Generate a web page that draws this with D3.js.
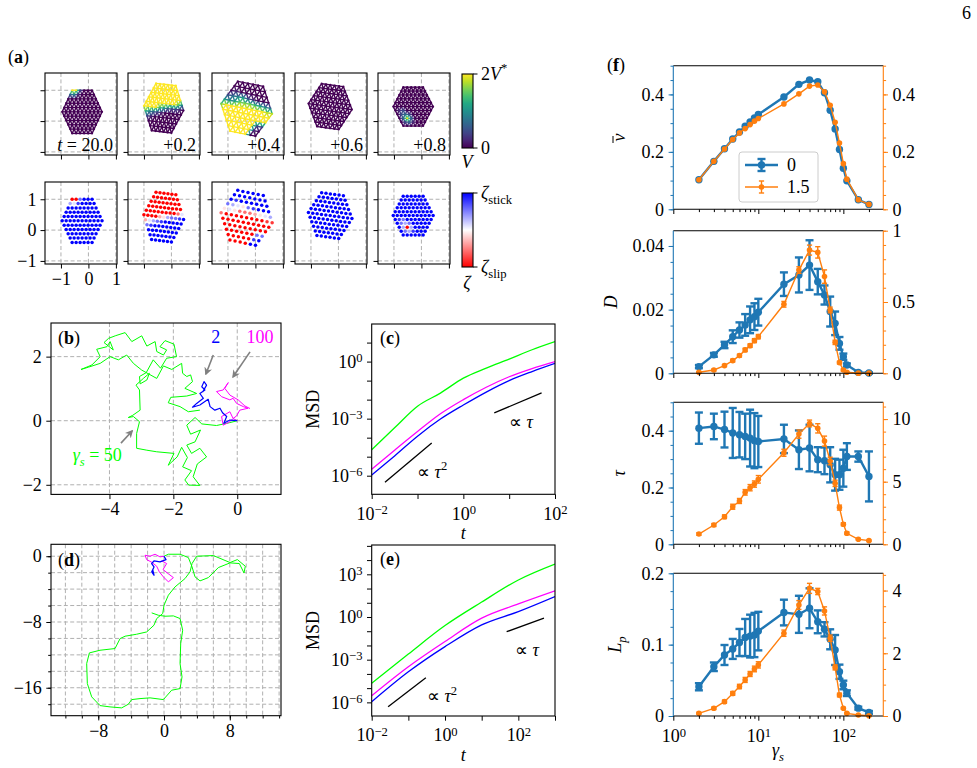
<!DOCTYPE html>
<html>
<head>
<meta charset="utf-8">
<script src="https://cdn.jsdelivr.net/npm/d3@7/dist/d3.min.js"></script>
<style>
  body { margin: 0; background: #fff; }
  text { font-family: "Liberation Serif", "Times New Roman", serif; fill: #000; }
</style>
</head>
<body>
<script>
// ---------------- data ----------------

// (a) snapshots of the 91-disc cluster, one string per lattice row (top to bottom),
// digit = local sliding level (0 = stuck, 9 = slipping)
const snapLabels = ['20.0', '+0.2', '+0.4', '+0.6', '+0.8']
const snapCenters = [[-0.23, 0.30], [-0.28, 0.42], [-0.32, 0.40], [-0.30, 0.47], [-0.30, 0.47]]
const snapTilt = [0, -6, -10, -7, 0]
const snapStretch = [[1, 1], [1, 1.1], [1.3, 1.17], [1.1, 1], [1, 0.9]]
const snapRows = [
  ['992000', '3410000', '00000000', '000000000', '0000000000', '00000000000', '0000000000', '000000000', '00000000', '0000000', '000000'],
  ['999999', '9999999', '99999999', '999999999', '9999999974', '99996532210', '6432100000', '210000000', '00000000', '0000000', '000000'],
  ['000000', '0000000', '01000000', '234521000', '5457776543', '79999999988', '9999999999', '999999999', '99999922', '9999910', '999900'],
  ['000000', '0000000', '00000000', '000000000', '0000000000', '00000000000', '0000000000', '000000000', '00000000', '0000000', '000000'],
  ['000000', '0000000', '00000000', '000000000', '0000000000', '00000000000', '0120000000', '023200000', '03930000', '0231000', '000000']
]
const latticeDx = 0.145
const latticeDy = 0.14

// (b) short trajectories, gamma_s = 50 / 2 / 100
const trajB50 = [[0, 0], [-0.23, -0.06], [-0.65, -0.15], [-1.11, -0.10], [-1.32, 0.10], [-1.58, -0.14], [-1.46, -0.42], [-1.15, -0.29], [-1.32, -0.66], [-1.58, -0.76], [-1.43, -1.02], [-1.17, -0.86], [-0.96, -1.13], [-1.25, -1.35], [-1.38, -1.75], [-1.17, -2.02], [-1.52, -2.01], [-1.64, -1.85], [-1.43, -1.56], [-1.71, -1.44], [-1.56, -1.15], [-1.74, -0.83], [-1.88, -1.13], [-2.16, -1.39], [-1.98, -1.02], [-2.52, -0.97], [-2.83, -0.92], [-3.15, -0.86], [-3.15, -0.40], [-3.06, -0.03], [-3.25, 0.13], [-3.41, 0.10], [-3.27, 0.17], [-3.04, 0.33], [-3.06, 0.96], [-3.17, 1.11], [-2.94, 1.32], [-2.75, 1.48], [-2.83, 1.27], [-3.04, 1.15], [-3.06, 1.38], [-2.85, 1.50], [-2.63, 1.90], [-2.40, 1.64], [-2.21, 1.95], [-1.90, 2.00], [-1.98, 2.39], [-2.26, 2.50], [-2.42, 2.31], [-2.21, 2.21], [-2.31, 2.05], [-2.52, 2.16], [-2.57, 2.47], [-2.83, 2.33], [-2.99, 2.65], [-3.30, 2.47], [-3.51, 2.75], [-3.82, 2.65], [-4.03, 2.57], [-4.17, 2.44], [-3.88, 2.21], [-3.98, 2.47], [-4.08, 2.31], [-4.40, 2.23], [-4.29, 2.00], [-4.55, 1.74], [-4.89, 1.60], [-4.66, 1.67], [-4.29, 1.79], [-3.98, 2.00], [-3.72, 1.90], [-3.46, 2.05], [-3.25, 1.79], [-2.99, 1.58], [-2.52, 1.32], [-2.31, 1.71], [-2.05, 1.60], [-1.74, 1.79], [-1.71, 1.48], [-1.58, 1.38], [-1.46, 1.43], [-1.40, 1.22], [-1.64, 1.01], [-1.27, 0.85], [-1.58, 0.77], [-2.08, 0.73], [-2.16, 0.56], [-1.79, 0.44], [-1.53, 0.28], [-1.17, 0.33]]
const trajB2 = [[0, 0], [-0.23, 0.02], [-0.42, -0.08], [-0.33, 0.13], [-0.46, 0.25], [-0.54, 0.39], [-0.70, 0.33], [-0.85, 0.44], [-0.91, 0.67], [-1.17, 0.49], [-1.40, 0.42], [-1.27, 0.54], [-1.06, 0.70], [-1.17, 0.85], [-1.01, 0.96], [-1.11, 1.06], [-1.04, 1.22], [-0.96, 1.11], [-1.08, 0.90]]
const trajB100 = [[0, 0], [-0.13, 0.07], [-0.23, -0.03], [-0.44, -0.14], [-0.49, 0.13], [-0.23, 0.28], [-0.13, 0.07], [-0.02, 0.15], [0.08, 0.33], [0.34, 0.39], [0.19, 0.44], [-0.02, 0.54], [-0.13, 0.70], [-0.23, 0.65], [-0.49, 0.75], [-0.65, 0.91], [-0.44, 0.96], [-0.28, 1.19], [-0.39, 1.01], [-0.23, 0.80], [0.03, 0.65], [0.24, 0.46], [0.40, 0.38]]

// (d) long trajectories
const trajD50 = [[0, 0], [0.53, 0.24], [1.95, 0.24], [2.96, -0.16], [3.41, -1.30], [3.77, -2.51], [4.38, -3.00], [5.39, -2.60], [6.61, -1.38], [8.03, -0.81], [9.16, -0.89], [9.73, -2.03], [9.89, -1.22], [8.92, -0.41], [8.03, -0.77], [6.00, 0.08], [3.97, 0.00], [3.41, -0.89], [3.16, -1.91], [2.55, -2.72], [1.34, -3.73], [0.53, -4.74], [0.00, -5.96], [-0.16, -6.97], [-0.89, -7.58], [-1.22, -8.39], [-2.11, -9.21], [-3.33, -9.49], [-4.74, -9.73], [-5.35, -10.02], [-5.96, -11.23], [-7.79, -11.44], [-9.08, -11.76], [-9.41, -13.06], [-9.33, -15.49], [-8.80, -17.11], [-7.79, -18.17], [-6.57, -18.33], [-5.15, -18.45], [-4.34, -18.00], [-3.93, -17.44], [-2.92, -17.32], [-1.70, -17.23], [-0.08, -17.44], [0.93, -16.30], [1.95, -16.10], [2.19, -14.68], [1.95, -13.06], [2.03, -10.62], [2.27, -9.00], [1.95, -7.58], [1.14, -7.26], [0.12, -7.30], [-0.69, -7.18], [-1.50, -6.89]]
const trajD2 = [[0, 0], [0.24, -0.41], [-0.49, -0.69], [-1.22, -0.57], [-1.50, -0.89], [-1.22, -1.30], [-1.50, -1.91], [-1.22, -2.31], [-1.38, -1.62]]
const trajD100 = [[0, 0], [-0.49, -0.08], [-1.09, 0.24], [-1.70, 0.00], [-2.31, 0.12], [-2.11, -0.41], [-1.50, -0.73], [-0.89, -1.22], [-0.57, -1.91], [-0.08, -2.51], [0.53, -3.12], [1.14, -2.60], [0.49, -2.11], [-0.12, -1.62], [0.32, -0.89], [-0.28, -0.57]]

// (c) MSD, short runs
const lagC = [0.01, 0.0316, 0.1, 0.316, 1, 3.16, 10, 31.6, 100]
const msdC50 = [2.3e-5, 3.3e-4, 4.5e-3, 2.2e-2, 0.135, 0.45, 1.35, 4.2, 11.2]
const msdC100 = [2.2e-6, 2.2e-5, 2.1e-4, 1.8e-3, 1.0e-2, 4.5e-2, 0.16, 0.43, 1.0]
const msdC2 = [1.07e-6, 1.1e-5, 1.2e-4, 9.5e-4, 5.2e-3, 2.5e-2, 0.1, 0.3, 0.81]

// (e) MSD, long runs
const lagE = [0.01, 0.1, 1, 10, 100, 1000]
const msdE50 = [2.2e-5, 2.5e-3, 0.25, 11.2, 400, 5250]
const msdE100 = [2.95e-6, 3.2e-4, 1.9e-2, 0.83, 8.3, 69]
const msdE2 = [1.1e-6, 1.4e-4, 8.3e-3, 0.28, 2.4, 27.5]

// (f) observables vs gamma_s for the two parameter values (0 and 1.5)
const gammaS = [2, 3, 4, 5, 6, 7, 8, 9, 10, 20, 30, 40, 50, 60, 70, 80, 90, 100, 110, 150, 200]
const vBar0 = [0.103, 0.167, 0.211, 0.245, 0.269, 0.289, 0.304, 0.318, 0.33, 0.391, 0.435, 0.45, 0.444, 0.406, 0.345, 0.28, 0.208, 0.143, 0.099, 0.033, 0.017]
const vBar15 = [0.103, 0.167, 0.21, 0.243, 0.266, 0.281, 0.295, 0.307, 0.316, 0.367, 0.402, 0.429, 0.433, 0.409, 0.362, 0.303, 0.231, 0.159, 0.105, 0.033, 0.017]
const diff0 = [0.0021, 0.0058, 0.0089, 0.0115, 0.0136, 0.0152, 0.0168, 0.0178, 0.0192, 0.028, 0.0309, 0.034, 0.0288, 0.0246, 0.0194, 0.0157, 0.0094, 0.0052, 0.0026, 0.0003, 0.0001]
const diff0Err = [0.0005, 0.0006, 0.001, 0.002, 0.0024, 0.0034, 0.0042, 0.0042, 0.0042, 0.0037, 0.0055, 0.0078, 0.004, 0.003, 0.0047, 0.0037, 0.002, 0.001, 0.0005, 0.0002, 0.0002]
const diff15 = [0.007, 0.023, 0.054, 0.089, 0.124, 0.164, 0.194, 0.229, 0.257, 0.484, 0.724, 0.864, 0.848, 0.678, 0.444, 0.217, 0.075, 0.023, 0.007, 0.001, 0.001]
const diff15Err = [0.005, 0.006, 0.008, 0.01, 0.01, 0.012, 0.012, 0.014, 0.015, 0.02, 0.023, 0.035, 0.04, 0.047, 0.02, 0.015, 0.01, 0.008, 0.005, 0.003, 0.003]
const tau0 = [0.409, 0.415, 0.404, 0.392, 0.386, 0.38, 0.374, 0.365, 0.362, 0.371, 0.333, 0.339, 0.298, 0.294, 0.28, 0.245, 0.245, 0.268, 0.309, 0.309, 0.239]
const tau0Err = [0.055, 0.045, 0.063, 0.088, 0.08, 0.08, 0.1, 0.097, 0.09, 0.05, 0.068, 0.082, 0.044, 0.047, 0.062, 0.056, 0.053, 0.065, 0.047, 0.018, 0.088]
const tau15 = [0.82, 1.54, 2.2, 3.0, 3.46, 4.15, 4.52, 4.81, 5.19, 7.31, 8.8, 9.65, 9.26, 8.24, 6.65, 4.87, 2.93, 1.6, 0.88, 0.4, 0.29]
const tau15Err = [0.1, 0.12, 0.15, 0.2, 0.2, 0.22, 0.25, 0.25, 0.3, 0.28, 0.33, 0.27, 0.37, 0.4, 0.3, 0.25, 0.2, 0.12, 0.1, 0.06, 0.05]
const lp0 = [0.041, 0.069, 0.0855, 0.094, 0.103, 0.11, 0.112, 0.1135, 0.119, 0.145, 0.1425, 0.151, 0.132, 0.1215, 0.1075, 0.0925, 0.062, 0.0435, 0.032, 0.011, 0.005]
const lp0Err = [0.005, 0.006, 0.014, 0.014, 0.019, 0.026, 0.03, 0.031, 0.027, 0.018, 0.026, 0.028, 0.016, 0.01, 0.014, 0.021, 0.01, 0.006, 0.004, 0.002, 0.002]
const lp15 = [0.085, 0.245, 0.457, 0.72, 0.94, 1.15, 1.34, 1.5, 1.63, 2.64, 3.54, 4.07, 3.97, 3.35, 2.48, 1.55, 0.67, 0.245, 0.085, 0.03, 0.01]
const lp15Err = [0.03, 0.04, 0.05, 0.06, 0.07, 0.08, 0.08, 0.09, 0.1, 0.1, 0.14, 0.16, 0.1, 0.13, 0.1, 0.08, 0.06, 0.03, 0.02, 0.01, 0.01]
const legendLabels = ['0', '1.5']

// ---------------- helpers ----------------
const C0 = '#1f77b4'
const C1 = '#ff7f0e'
const GRID = '#b0b0b0'
const GREEN = '#00ff00'
const BLUE = '#0000ff'
const MAGENTA = '#ff00ff'
const FS = 18
const minus = d => (d < 0 ? '\u2212' + Math.abs(d) : String(d))
const trim = d => minus(+d.toFixed(4))

const svg = d3.select('body').append('svg').attr('width', 977).attr('height', 768)
const defs = svg.append('defs')

// text made of pieces: strings or {t, i, b, sub, sup, fill}
function rich (parent, x, y, parts, anchor = 'start', size = FS, rotate = 0) {
  const t = parent.append('text')
    .attr('transform', `translate(${x},${y}) rotate(${rotate})`)
    .attr('text-anchor', anchor)
    .attr('font-size', size)
  let shift = 0
  parts.forEach(p => {
    if (typeof p === 'string') p = { t: p }
    const target = p.sup ? -0.42 * size : p.sub ? 0.28 * size : 0
    const s = t.append('tspan').text(p.t).attr('dy', target - shift)
    shift = target
    if (p.i) s.attr('font-style', 'italic')
    if (p.b) s.attr('font-weight', 'bold')
    if (p.sup || p.sub) s.attr('font-size', size * 0.7)
    if (p.fill) s.attr('fill', p.fill)
  })
  return t
}

function box (x0, y0, w, h, id) {
  defs.append('clipPath').attr('id', id).append('rect').attr('width', w).attr('height', h)
  const g = svg.append('g').attr('transform', `translate(${x0},${y0})`)
  const inner = g.append('g').attr('clip-path', `url(#${id})`)
  return { g, inner }
}

function border (g, w, h) {
  g.append('rect').attr('width', w).attr('height', h)
    .attr('fill', 'none').attr('stroke', '#000').attr('stroke-width', 1.1)
}

function dashedGrid (inner, xs, ys, xv, yv, w, h) {
  const gg = inner.append('g').attr('stroke', GRID).attr('stroke-width', 1).attr('stroke-dasharray', '4,2.4')
  gg.selectAll('line.v').data(xv).join('line').attr('class', 'v')
    .attr('x1', d => xs(d)).attr('x2', d => xs(d)).attr('y1', 0).attr('y2', h)
  gg.selectAll('line.h').data(yv).join('line').attr('class', 'h')
    .attr('x1', 0).attr('x2', w).attr('y1', d => ys(d)).attr('y2', d => ys(d))
}

function axisOn (g, axis, tx, ty, color = '#000', size = FS) {
  const a = g.append('g').attr('transform', `translate(${tx},${ty})`).call(axis)
  a.attr('font-family', null).attr('font-size', size).attr('fill', null)
  a.select('.domain').remove()
  a.selectAll('.tick line').attr('stroke', color).attr('stroke-width', 1)
  a.selectAll('.tick text').attr('fill', color)
  return a
}

// turn exponent labels into 10^e
function powerize (a) {
  a.selectAll('.tick text').each(function () {
    const t = d3.select(this)
    const e = t.text()
    if (!e) return
    t.text(null)
    t.append('tspan').text('10')
    t.append('tspan').attr('dy', '-0.45em').attr('font-size', '0.7em').text(e)
  })
}

const expLabel = shown => d => {
  const e = Math.round(Math.log10(d))
  return shown.includes(e) ? minus(e) : ''
}
const decades = (a, b) => d3.range(a, b + 1).map(e => Math.pow(10, e))

// ---------------- page number ----------------
rich(svg, 971, 19, ['6'], 'end')

// ---------------- (a) ----------------
const aLeft = [45, 128, 212, 295, 378]
const aTop = [73, 182]
const aW = 72
const aH = 82
const xA = d3.scaleLinear().domain([-1.58, 1.04]).range([0, aW])
const yA = d3.scaleLinear().domain([-1.1, 1.56]).range([aH, 0])
const bwr = d3.scaleLinear().domain([0, 4.5, 9]).range(['#0000ff', '#ffffff', '#ff0000'])

function discsOf (k) {
  const [cx, cy] = snapCenters[k]
  const [sx, sy] = snapStretch[k]
  const a = snapTilt[k] * Math.PI / 180
  const out = []
  snapRows[k].forEach((row, r) => {
    const n = row.length
    for (let i = 0; i < n; i++) {
      const u = (i - (n - 1) / 2) * latticeDx * sx
      const v = (5 - r) * latticeDy * sy
      out.push({ r, i, s: +row[i], x: cx + u * Math.cos(a) - v * Math.sin(a), y: cy + u * Math.sin(a) + v * Math.cos(a) })
    }
  })
  return out
}

rich(svg, 8, 63, ['(', { t: 'a', b: true }, ')'])

snapRows.forEach((rows, k) => {
  const discs = discsOf(k)
  const byKey = new Map(discs.map(d => [d.r + ',' + d.i, d]))
  const bonds = []
  discs.forEach(d => {
    const nb = d.r < 5
      ? [[d.r, d.i + 1], [d.r + 1, d.i], [d.r + 1, d.i + 1]]
      : [[d.r, d.i + 1], [d.r + 1, d.i - 1], [d.r + 1, d.i]]
    nb.forEach(([r, i]) => {
      const o = byKey.get(r + ',' + i)
      if (o) bonds.push([d, o])
    })
  })

  for (let row = 0; row < 2; row++) {
    const { g, inner } = box(aLeft[k], aTop[row], aW, aH, `clipA${k}${row}`)
    dashedGrid(inner, xA, yA, [-1, 0, 1], [-1, 0, 1], aW, aH)

    if (row === 0) {
      inner.append('g').selectAll('line').data(bonds).join('line')
        .attr('x1', b => xA(b[0].x)).attr('y1', b => yA(b[0].y))
        .attr('x2', b => xA(b[1].x)).attr('y2', b => yA(b[1].y))
        .attr('stroke', b => d3.interpolateViridis((b[0].s + b[1].s) / 18))
        .attr('stroke-width', 1.4)
      inner.append('g').selectAll('circle').data(discs).join('circle')
        .attr('cx', d => xA(d.x)).attr('cy', d => yA(d.y)).attr('r', 1.1)
        .attr('fill', d => d3.interpolateViridis(d.s / 9))
    } else {
      inner.append('g').selectAll('circle').data(discs).join('circle')
        .attr('cx', d => xA(d.x)).attr('cy', d => yA(d.y)).attr('r', 1.75)
        .attr('fill', d => bwr(d.s))
    }

    const labelled = row === 1 && k === 0
    axisOn(g, d3.axisLeft(yA).tickValues([-1, 0, 1]).tickSize(4.5).tickPadding(4)
      .tickFormat(labelled ? minus : () => ''), 0, 0)
    axisOn(g, d3.axisBottom(xA).tickValues([-1, 0, 1]).tickSize(4.5).tickPadding(3.5)
      .tickFormat(labelled ? minus : () => ''), 0, aH)
    border(g, aW, aH)

    if (row === 0) {
      const parts = k === 0 ? [{ t: 't', i: true }, ' = ' + snapLabels[k]] : [snapLabels[k]]
      rich(g, aW - 4, aH - 4, parts, 'end')
    }
  }
})

// colourbars
const gradV = defs.append('linearGradient').attr('id', 'gradV').attr('x1', 0).attr('y1', 1).attr('x2', 0).attr('y2', 0)
d3.range(0, 1.0001, 0.1).forEach(t => gradV.append('stop').attr('offset', t).attr('stop-color', d3.interpolateViridis(t)))
const gradZ = defs.append('linearGradient').attr('id', 'gradZ').attr('x1', 0).attr('y1', 1).attr('x2', 0).attr('y2', 0)
gradZ.append('stop').attr('offset', 0).attr('stop-color', '#ff0000')
gradZ.append('stop').attr('offset', 0.5).attr('stop-color', '#ffffff')
gradZ.append('stop').attr('offset', 1).attr('stop-color', '#0000ff')

function colourbar (y0, h, grad, topLabel, botLabel, name, nameY) {
  const g = svg.append('g').attr('transform', `translate(462,${y0})`)
  g.append('rect').attr('width', 11).attr('height', h).attr('fill', `url(#${grad})`)
    .attr('stroke', '#000').attr('stroke-width', 1.1)
  g.append('line').attr('x1', 11).attr('x2', 15.5).attr('y1', 0).attr('y2', 0).attr('stroke', '#000')
  g.append('line').attr('x1', 11).attr('x2', 15.5).attr('y1', h).attr('y2', h).attr('stroke', '#000')
  rich(g, 19, 6, topLabel)
  rich(g, 19, h + 6, botLabel)
  rich(svg, 467, nameY, name, 'middle')
}
colourbar(74, 74, 'gradV', ['2', { t: 'V', i: true }, { t: '*', sup: true }], ['0'], [{ t: 'V', i: true }], 168)
colourbar(193, 74, 'gradZ', [{ t: '\u03b6', i: true }, { t: 'stick', sub: true }], [{ t: '\u03b6', i: true }, { t: 'slip', sub: true }], [{ t: '\u03b6', i: true }], 289)

// ---------------- (b) & (d) trajectories ----------------
function trajPanel (top, xDom, yDom, xTicks, yTicks, xMinor, yMinor, gridX, gridY, paths, id) {
  const w = 230
  const h = 171.4
  const x = d3.scaleLinear().domain(xDom).range([0, w])
  const y = d3.scaleLinear().domain(yDom).range([h, 0])
  const { g, inner } = box(51, top, w, h, id)
  dashedGrid(inner, x, y, gridX, gridY, w, h)
  const line = d3.line().x(d => x(d[0])).y(d => y(d[1]))
  inner.append('g').selectAll('path').data(paths).join('path')
    .attr('d', p => line(p.pts)).attr('fill', 'none')
    .attr('stroke', p => p.color).attr('stroke-width', p => p.lw)
    .attr('stroke-linejoin', 'round')
  if (xMinor) axisOn(g, d3.axisBottom(x).tickValues(xMinor).tickSize(2.8).tickFormat(() => ''), 0, h)
  if (yMinor) axisOn(g, d3.axisLeft(y).tickValues(yMinor).tickSize(2.8).tickFormat(() => ''), 0, 0)
  axisOn(g, d3.axisBottom(x).tickValues(xTicks).tickSize(4.7).tickPadding(3.5).tickFormat(minus), 0, h)
  axisOn(g, d3.axisLeft(y).tickValues(yTicks).tickSize(4.7).tickPadding(4.5).tickFormat(minus), 0, 0)
  border(g, w, h)
  return { g, x, y }
}

const pb = trajPanel(323, [-5.83, 1.37], [-2.3, 3.05], [-4, -2, 0], [-2, 0, 2], null, null,
  [-4, -2, 0], [-2, 0, 2],
  [{ pts: trajB50, color: GREEN, lw: 1 }, { pts: trajB100, color: MAGENTA, lw: 1 }, { pts: trajB2, color: BLUE, lw: 1.2 }], 'clipB')
rich(svg, 58, 344, ['(', { t: 'b', b: true }, ')'])

defs.append('marker').attr('id', 'head').attr('viewBox', '0 0 10 10')
  .attr('refX', 8).attr('refY', 5).attr('markerWidth', 8).attr('markerHeight', 8)
  .attr('markerUnits', 'userSpaceOnUse').attr('orient', 'auto')
  .append('path').attr('d', 'M0,0 L10,5 L0,10 L3,5 z').attr('fill', '#808080')

const arrowsB = [
  { from: [-0.75, 2.05], to: [-0.98, 1.46] },
  { from: [0.40, 2.15], to: [-0.13, 1.37] },
  { from: [-3.64, -0.70], to: [-3.29, -0.32] }
]
pb.g.append('g').selectAll('line').data(arrowsB).join('line')
  .attr('x1', d => pb.x(d.from[0])).attr('y1', d => pb.y(d.from[1]))
  .attr('x2', d => pb.x(d.to[0])).attr('y2', d => pb.y(d.to[1]))
  .attr('stroke', '#808080').attr('stroke-width', 1.6).attr('marker-end', 'url(#head)')
rich(pb.g, pb.x(-0.67), pb.y(2.43), [{ t: '2', fill: BLUE }], 'middle')
rich(pb.g, pb.x(0.71), pb.y(2.43), [{ t: '100', fill: MAGENTA }], 'middle')
rich(pb.g, pb.x(-5.15), pb.y(-1.25), [{ t: '\u03b3', i: true, fill: GREEN }, { t: 's', i: true, sub: true, fill: GREEN }, { t: ' = 50', fill: GREEN }])

trajPanel(544.3, [-13.75, 14.23], [-19.4, 1.45], [-8, 0, 8], [-16, -8, 0],
  d3.range(-12, 15, 2), d3.range(-18, 1, 2), d3.range(-12, 15, 2), d3.range(-18, 1, 2),
  [{ pts: trajD50, color: GREEN, lw: 1 }, { pts: trajD100, color: MAGENTA, lw: 1 }, { pts: trajD2, color: BLUE, lw: 1.3 }], 'clipD')
rich(svg, 58, 566, ['(', { t: 'd', b: true }, ')'])

// ---------------- (c) & (e) MSD ----------------
function msdPanel (top, h, xDom, yDom, xExp, yExp, xShown, yShown, lag, curves, refs, id, tag) {
  const w = 183.3
  const x = d3.scaleLog().domain(xDom).range([0, w])
  const y = d3.scaleLog().domain(yDom).range([h, 0])
  const { g, inner } = box(371.7, top, w, h, id)
  const line = d3.line().curve(d3.curveMonotoneX).x(d => x(d[0])).y(d => y(d[1]))
  inner.append('g').selectAll('path').data(curves).join('path')
    .attr('d', c => line(lag.map((t, i) => [t, c.v[i]]))).attr('fill', 'none')
    .attr('stroke', c => c.color).attr('stroke-width', 1.3)
  g.append('g').selectAll('line').data(refs).join('line')
    .attr('x1', r => x(r.a[0])).attr('y1', r => y(r.a[1]))
    .attr('x2', r => x(r.b[0])).attr('y2', r => y(r.b[1]))
    .attr('stroke', '#000').attr('stroke-width', 1.3)
  refs.forEach(r => {
    rich(g, x(r.at[0]), y(r.at[1]), ['\u221d ', { t: '\u03c4', i: true }].concat(r.sq ? [{ t: '2', sup: true }] : []))
  })
  const ax = axisOn(g, d3.axisBottom(x).tickValues(decades(xExp[0], xExp[1])).tickSize(4.7).tickPadding(8)
    .tickFormat(expLabel(xShown)), 0, h)
  powerize(ax)
  const ay = axisOn(g, d3.axisLeft(y).tickValues(decades(yExp[0], yExp[1])).tickSize(4.7).tickPadding(4.5)
    .tickFormat(expLabel(yShown)), 0, 0)
  powerize(ay)
  border(g, w, h)
  rich(svg, 319, top + h / 2, ['MSD'], 'middle', FS, -90)
  rich(svg, 463.3, top + h + 45, [{ t: 't', i: true }], 'middle')
  rich(svg, 380, top + 20, ['(', { t: tag, b: true }, ')'])
}

msdPanel(324, 170.3, [0.01, 100], [1.05e-7, 95], [-2, 2], [-6, 1], [-2, 0, 2], [-6, -3, 0], lagC,
  [{ v: msdC50, color: GREEN }, { v: msdC100, color: MAGENTA }, { v: msdC2, color: BLUE }],
  [{ a: [0.0195, 4.5e-7], b: [0.204, 5.2e-5], at: [0.098, 7.6e-7], sq: true },
    { a: [4.73, 2.0e-3], b: [51, 2.24e-2], at: [9.9, 3.4e-4], sq: false }],
  'clipC', 'c')

msdPanel(545, 171, [0.01, 1000], [1.1e-7, 1.15e5], [-2, 3], [-6, 5], [-2, 0, 2], [-6, -3, 0, 3], lagE,
  [{ v: msdE50, color: GREEN }, { v: msdE100, color: MAGENTA }, { v: msdE2, color: BLUE }],
  [{ a: [0.028, 4.9e-7], b: [0.30, 5.4e-5], at: [0.32, 1.05e-6], sq: true },
    { a: [48, 9.3e-2], b: [500, 0.83], at: [81, 1.8e-3], sq: false }],
  'clipE', 'e')

// ---------------- (f) ----------------
const fLeft = 673.3
const fRight = 883.3
const fTop = [65.7, 230.7, 402.3, 573.3]
const fBottom = [209.3, 373.3, 544.3, 716]
const xF = d3.scaleLog().domain([1, 295]).range([0, fRight - fLeft])
const fMinorX = [2, 3, 4, 5, 6, 7, 8, 9, 20, 30, 40, 50, 60, 70, 80, 90, 200]

const fPanels = [
  { b: vBar0, be: null, o: vBar15, oe: null, left: [0, 0.5], right: [0, 0.5], lMaj: [0, 0.2, 0.4], lStep: 0.05, rMaj: [0, 0.2, 0.4], rStep: 0.05, name: [{ t: 'v', i: true }], nameX: 625, bar: true },
  { b: diff0, be: diff0Err, o: diff15, oe: diff15Err, left: [0, 0.0448], right: [0, 1], lMaj: [0, 0.02, 0.04], lStep: 0.005, rMaj: [0, 0.5, 1], rStep: 0.1, name: [{ t: 'D', i: true }], nameX: 617 },
  { b: tau0, be: tau0Err, o: tau15, oe: tau15Err, left: [0, 0.5], right: [0, 11.34], lMaj: [0, 0.2, 0.4], lStep: 0.05, rMaj: [0, 5, 10], rStep: 1, name: [{ t: '\u03c4', i: true }], nameX: 625 },
  { b: lp0, be: lp0Err, o: lp15, oe: lp15Err, left: [0, 0.2], right: [0, 4.55], lMaj: [0, 0.1, 0.2], lStep: 0.025, rMaj: [0, 2, 4], rStep: 0.5, name: [{ t: 'L', i: true }, { t: 'p', i: true, sub: true }], nameX: 621 }
]

function drawSeries (g, y, vals, errs, color, lw, r, cap) {
  const pts = gammaS.map((s, i) => ({ s, v: vals[i], e: errs ? errs[i] : 0 }))
  g.append('path').datum(pts)
    .attr('d', d3.line().x(d => xF(d.s)).y(d => y(d.v)))
    .attr('fill', 'none').attr('stroke', color).attr('stroke-width', lw)
  const eb = g.append('g').attr('stroke', color).attr('stroke-width', lw)
  const withErr = pts.filter(d => d.e > 0)
  eb.selectAll('line.bar').data(withErr).join('line').attr('class', 'bar')
    .attr('x1', d => xF(d.s)).attr('x2', d => xF(d.s))
    .attr('y1', d => y(d.v - d.e)).attr('y2', d => y(d.v + d.e))
  eb.selectAll('line.lo').data(withErr).join('line').attr('class', 'lo')
    .attr('x1', d => xF(d.s) - cap).attr('x2', d => xF(d.s) + cap)
    .attr('y1', d => y(d.v - d.e)).attr('y2', d => y(d.v - d.e))
  eb.selectAll('line.hi').data(withErr).join('line').attr('class', 'hi')
    .attr('x1', d => xF(d.s) - cap).attr('x2', d => xF(d.s) + cap)
    .attr('y1', d => y(d.v + d.e)).attr('y2', d => y(d.v + d.e))
  g.append('g').selectAll('circle').data(pts).join('circle')
    .attr('cx', d => xF(d.s)).attr('cy', d => y(d.v)).attr('r', r).attr('fill', color)
}

fPanels.forEach((p, k) => {
  const h = fBottom[k] - fTop[k]
  const w = fRight - fLeft
  const yl = d3.scaleLinear().domain(p.left).range([h, 0])
  const yr = d3.scaleLinear().domain(p.right).range([h, 0])
  const g = svg.append('g').attr('transform', `translate(${fLeft},${fTop[k]})`)

  drawSeries(g, yl, p.b, p.be, C0, 2.4, 3.7, 4)
  drawSeries(g, yr, p.o, p.oe, C1, 1.4, 2.8, 2.6)

  const lMinor = d3.range(p.left[0], p.left[1] + 1e-9, p.lStep)
  const rMinor = d3.range(p.right[0], p.right[1] + 1e-9, p.rStep)
  axisOn(g, d3.axisLeft(yl).tickValues(lMinor).tickSize(2.8).tickFormat(() => ''), 0, 0, C0)
  axisOn(g, d3.axisLeft(yl).tickValues(p.lMaj).tickSize(4.7).tickPadding(4.5).tickFormat(trim), 0, 0, C0)
  axisOn(g, d3.axisRight(yr).tickValues(rMinor).tickSize(2.8).tickFormat(() => ''), w, 0, C1)
  axisOn(g, d3.axisRight(yr).tickValues(p.rMaj).tickSize(4.7).tickPadding(4.5).tickFormat(trim), w, 0, C1)
  axisOn(g, d3.axisBottom(xF).tickValues(fMinorX).tickSize(2.8).tickFormat(() => ''), 0, h)
  const ax = axisOn(g, d3.axisBottom(xF).tickValues([1, 10, 100]).tickSize(4.7).tickPadding(9)
    .tickFormat(k === 3 ? expLabel([0, 1, 2]) : () => ''), 0, h)
  powerize(ax)

  g.append('line').attr('x1', 0).attr('x2', w).attr('y1', 0).attr('y2', 0).attr('stroke', '#000').attr('stroke-width', 1.1)
  g.append('line').attr('x1', 0).attr('x2', w).attr('y1', h).attr('y2', h).attr('stroke', '#000').attr('stroke-width', 1.1)
  g.append('line').attr('x1', 0).attr('x2', 0).attr('y1', 0).attr('y2', h).attr('stroke', C0).attr('stroke-width', 1.1)
  g.append('line').attr('x1', w).attr('x2', w).attr('y1', 0).attr('y2', h).attr('stroke', C1).attr('stroke-width', 1.1)

  const cy = fTop[k] + h / 2
  rich(svg, p.nameX, cy, p.name, 'middle', FS, -90)
  if (p.bar) {
    // bar over the rotated v
    svg.append('line').attr('x1', p.nameX - 12).attr('x2', p.nameX - 12)
      .attr('y1', cy - 1.5).attr('y2', cy + 5.5).attr('stroke', '#000').attr('stroke-width', 1)
  }
})
rich(svg, 778, 756, [{ t: '\u03b3', i: true }, { t: 's', i: true, sub: true }], 'middle')
rich(svg, 607, 71, ['(', { t: 'f', b: true }, ')'])

// legend of panel (f)
const leg = svg.append('g').attr('transform', 'translate(739,152)')
leg.append('rect').attr('width', 79).attr('height', 50).attr('rx', 3)
  .attr('fill', '#fff').attr('fill-opacity', 0.8).attr('stroke', '#cccccc')
const legStyle = [{ color: C0, lw: 2.4, r: 3.7, cap: 4 }, { color: C1, lw: 1.4, r: 2.8, cap: 2.6 }]
legendLabels.forEach((lab, i) => {
  const s = legStyle[i]
  const cy = 13 + i * 22
  const e = leg.append('g').attr('stroke', s.color).attr('stroke-width', s.lw)
  e.append('line').attr('x1', 6).attr('x2', 39).attr('y1', cy).attr('y2', cy)
  e.append('line').attr('x1', 22.5).attr('x2', 22.5).attr('y1', cy - 6).attr('y2', cy + 6)
  e.append('line').attr('x1', 22.5 - s.cap).attr('x2', 22.5 + s.cap).attr('y1', cy - 6).attr('y2', cy - 6)
  e.append('line').attr('x1', 22.5 - s.cap).attr('x2', 22.5 + s.cap).attr('y1', cy + 6).attr('y2', cy + 6)
  leg.append('circle').attr('cx', 22.5).attr('cy', cy).attr('r', s.r).attr('fill', s.color)
  rich(leg, 48, cy + 6, [lab])
})
</script>
</body>
</html>
